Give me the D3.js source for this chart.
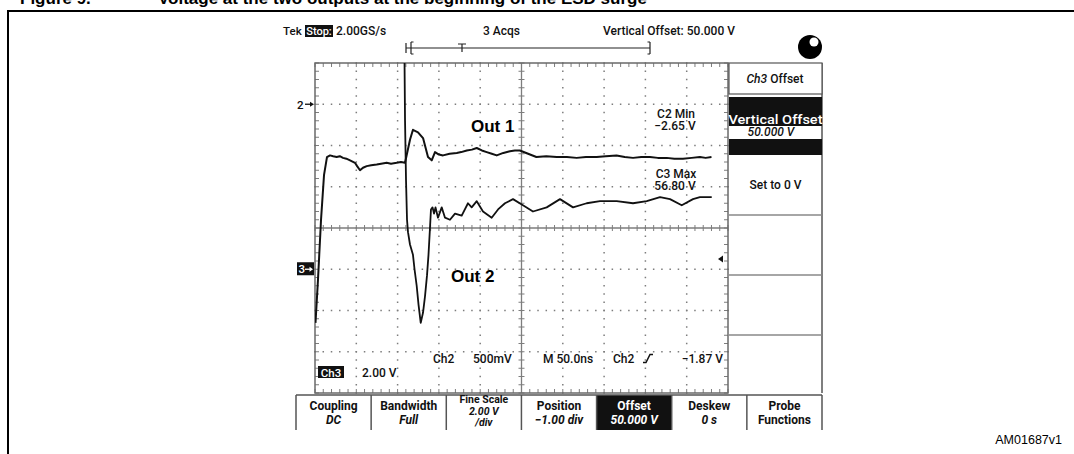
<!DOCTYPE html>
<html><head><meta charset="utf-8">
<script src="https://cdn.jsdelivr.net/npm/d3@7/dist/d3.min.js"></script>
<style>
body{margin:0;background:#fff}
svg{display:block}
text{font-family:Roboto,"Noto Sans",sans-serif}
</style>
</head><body>
<svg id="c" width="1074" height="454"></svg>
<script>
// ---------- DATA ----------
// Out 1 (Ch2, 500 mV/div, ground marker at +3 div), time in ns (50 ns/div)
const out1Time  = [0.6,3.6,7.3,10.9,14.5,18.2,22,26.3,30,33.9,38,42.4,48.4,51,54.5,58.1,62.6,68,74.7,80,86.8,92,98.9,104,109,115,118.6,124.7,130.8,136.8,141.3,145.3,150,155,163,171.6,177,183.7,190,195.8,202,207.9,214,220,228,236,242,248,258,268,280,292.6,305,316.8,328,341,352,365,375,385,395,405.6,415,425.8,435,445.5,456,466,473,480];
const out1Volts = [-2.65,-2.13,-1.40,-0.86,-0.64,-0.62,-0.63,-0.64,-0.63,-0.65,-0.66,-0.68,-0.71,-0.75,-0.80,-0.77,-0.75,-0.74,-0.73,-0.72,-0.71,-0.72,-0.71,-0.70,-0.71,-0.43,-0.31,-0.34,-0.41,-0.64,-0.68,-0.58,-0.61,-0.62,-0.60,-0.59,-0.58,-0.56,-0.55,-0.53,-0.56,-0.58,-0.60,-0.62,-0.59,-0.57,-0.56,-0.56,-0.60,-0.64,-0.63,-0.64,-0.64,-0.65,-0.64,-0.64,-0.63,-0.62,-0.64,-0.65,-0.64,-0.64,-0.65,-0.65,-0.66,-0.66,-0.65,-0.64,-0.65,-0.64];
// Out 2 (Ch3, 2.00 V/div, offset 50 V at -1 div)
const out2Time  = [108.4,109,110.2,111.4,112.6,115,118.6,120.5,123.1,125.3,128,130.8,133.2,135.6,137.4,139.2,140.4,142.3,144.1,145.9,148.9,153.4,157.4,163.4,169.5,177.6,185.2,189.7,195.8,203.4,213.9,221.6,230,239.7,251.8,263.9,280.5,296.6,312.4,328.9,345,365.3,385,401.6,417.7,429.8,444,457.6,466,480.3];
const out2Volts = [60.0,57.2,54.3,52.4,51.8,51.2,50.7,50.0,49.2,48.3,47.4,47.9,48.7,49.7,50.7,52.0,52.9,53.0,52.7,53.0,52.5,53.0,52.5,52.4,52.7,52.6,53.2,53.0,53.3,52.8,52.5,52.9,53.2,53.4,53.1,52.8,53.0,53.4,53.0,53.2,53.3,53.3,53.2,53.3,53.5,53.4,53.1,53.4,53.5,53.5];

const headerTexts = ["2.00GS/s","3 Acqs","Vertical Offset: 50.000 V"];
const measLabels = [["C2 Min","\u22122.65 V"],["C3 Max","56.80 V"]];
const sideMenu = ["Ch3 Offset","Vertical Offset","50.000 V","Set to 0 V"];
const bottomButtons = [
  ["Coupling","DC"],["Bandwidth","Full"],["Fine Scale","2.00 V","/div"],
  ["Position","\u22121.00 div"],["Offset","50.000 V"],["Deskew","0 s"],["Probe","Functions"]
];
const statusTexts = {ch3:"2.00 V", ch2:"Ch2", ch2scale:"500mV", time:"M 50.0ns", trig:"Ch2", trigLevel:"\u22121.87 V"};

// ---------- SCALES ----------
const svg = d3.select('#c');
const gx0=315, gx1=728, gy0=63, gy1=393;
const xDiv = d3.scaleLinear().domain([0,10]).range([gx0,gx1]);
const yDiv = d3.scaleLinear().domain([-4,4]).range([gy1,gy0]);
const xTime = d3.scaleLinear().domain([0,500]).range([gx0,gx1]);
const yCh2 = d3.scaleLinear().domain([-3.5,0.5]).range([gy1,gy0]);
const yCh3 = d3.scaleLinear().domain([44,60]).range([gy1,gy0]);

// ---------- FRAME / TITLE ----------
const title = svg.append('text').attr('y',4).style('font-family','"Liberation Sans",Arial,sans-serif')
  .style('font-weight','bold').style('font-size','17px').attr('fill','#000');
title.append('tspan').attr('x',20).text('Figure 9.');
title.append('tspan').attr('x',158).text('Voltage at the two outputs at the beginning of the ESD surge');
svg.append('line').attr('x1',8).attr('x2',1074).attr('y1',11).attr('y2',11).attr('stroke','#000').attr('stroke-width',2);
svg.append('line').attr('x1',8).attr('x2',8).attr('y1',10).attr('y2',454).attr('stroke','#000').attr('stroke-width',2);
svg.append('text').attr('x',1062).attr('y',444).attr('text-anchor','end')
  .style('font-family','"Liberation Sans",Arial,sans-serif').style('font-size','12.5px').text('AM01687v1');

// ---------- GRATICULE ----------
const grid = svg.append('g');
const gridCol = '#7d7d7d';
const sub = d3.range(0,10.001,0.2);
const subY = d3.range(-4,4.001,0.2);
d3.range(1,10).filter(d=>d!==5).forEach(d=>{
  grid.selectAll(null).data(subY).enter().append('rect')
    .attr('x',xDiv(d)-0.75).attr('y',v=>yDiv(v)-0.75).attr('width',1.5).attr('height',1.5).attr('fill',gridCol);
});
d3.range(-3,4).filter(d=>d!==0).forEach(d=>{
  grid.selectAll(null).data(sub).enter().append('rect')
    .attr('x',v=>xDiv(v)-0.75).attr('y',yDiv(d)-0.75).attr('width',1.5).attr('height',1.5).attr('fill',gridCol);
});
grid.append('line').attr('x1',gx0).attr('x2',gx1).attr('y1',yDiv(0)).attr('y2',yDiv(0)).attr('stroke',gridCol).attr('stroke-width',1.3);
grid.append('line').attr('x1',xDiv(5)).attr('x2',xDiv(5)).attr('y1',gy0).attr('y2',gy1).attr('stroke',gridCol).attr('stroke-width',1.3);
grid.selectAll(null).data(sub).enter().append('line')
  .attr('x1',v=>xDiv(v)).attr('x2',v=>xDiv(v)).attr('y1',yDiv(0)-3).attr('y2',yDiv(0)+3).attr('stroke',gridCol);
grid.selectAll(null).data(subY).enter().append('line')
  .attr('y1',v=>yDiv(v)).attr('y2',v=>yDiv(v)).attr('x1',xDiv(5)-3).attr('x2',xDiv(5)+3).attr('stroke',gridCol);
grid.selectAll(null).data(sub).enter().append('line')
  .attr('x1',v=>xDiv(v)).attr('x2',v=>xDiv(v)).attr('y1',gy0).attr('y2',gy0+4).attr('stroke',gridCol);
grid.selectAll(null).data(sub).enter().append('line')
  .attr('x1',v=>xDiv(v)).attr('x2',v=>xDiv(v)).attr('y1',gy1).attr('y2',gy1-4).attr('stroke',gridCol);
grid.selectAll(null).data(subY).enter().append('line')
  .attr('y1',v=>yDiv(v)).attr('y2',v=>yDiv(v)).attr('x1',gx0).attr('x2',gx0+4).attr('stroke',gridCol);
grid.selectAll(null).data(subY).enter().append('line')
  .attr('y1',v=>yDiv(v)).attr('y2',v=>yDiv(v)).attr('x1',gx1).attr('x2',gx1-4).attr('stroke',gridCol);
grid.append('rect').attr('x',gx0).attr('y',gy0).attr('width',gx1-gx0).attr('height',gy1-gy0)
  .attr('fill','none').attr('stroke','#6a6a6a').attr('stroke-width',1.5);

// ---------- TRACES ----------
svg.append('clipPath').attr('id','clip').append('rect').attr('x',gx0).attr('y',gy0).attr('width',gx1-gx0).attr('height',gy1-gy0);
const tr = svg.append('g').attr('clip-path','url(#clip)');
const l1 = d3.line().x((d,i)=>xTime(out1Time[i])).y(d=>yCh2(d));
const l2 = d3.line().x((d,i)=>xTime(out2Time[i])).y(d=>yCh3(d));
tr.append('path').attr('d',l1(out1Volts)).attr('fill','none').attr('stroke','#111').attr('stroke-width',2).attr('stroke-linejoin','round');
tr.append('path').attr('d',l2(out2Volts)).attr('fill','none').attr('stroke','#111').attr('stroke-width',1.8).attr('stroke-linejoin','round');

// ---------- LABELS ON SCREEN ----------
const bold = (sel)=>sel.style('font-family','"Liberation Sans",Arial,sans-serif').style('font-weight','bold');
bold(svg.append('text').attr('x',471).attr('y',132).style('font-size','17px').text('Out 1'));
bold(svg.append('text').attr('x',451).attr('y',282).style('font-size','17px').text('Out 2'));

const sc = (sel,size)=>sel.style('font-size',(size||12)+'px').style('font-weight',500).attr('fill','#111');
measLabels.forEach((m,i)=>{
  const by = i===0?118:178;
  sc(svg.append('text').attr('x',676).attr('y',by).attr('text-anchor','middle').text(m[0]));
  sc(svg.append('text').attr('x',675).attr('y',by+12).attr('text-anchor','middle').text(m[1]));
});

sc(svg.append('text').attr('x',297).attr('y',108.5).style('font-weight',700).text('2'),11.5);
svg.append('line').attr('x1',305).attr('x2',311).attr('y1',yDiv(3)).attr('y2',yDiv(3)).attr('stroke','#111').attr('stroke-width',1.3);
svg.append('path').attr('d',`M${314},${yDiv(3)} l-4,-2.5 v5 z`).attr('fill','#111');
svg.append('rect').attr('x',297).attr('y',yDiv(-1)-7).attr('width',17).attr('height',13).attr('fill','#111');
sc(svg.append('text').attr('x',298.5).attr('y',yDiv(-1)+4).style('font-weight',700).text('3'),11.5).attr('fill','#fff');
svg.append('line').attr('x1',305).attr('x2',310).attr('y1',yDiv(-1)).attr('y2',yDiv(-1)).attr('stroke','#fff').attr('stroke-width',1.3);
svg.append('path').attr('d',`M${313},${yDiv(-1)} l-3.5,-2.5 v5 z`).attr('fill','#fff');
svg.append('path').attr('d',`M718,${yCh2(-1.87)+0.5} l5,-3.5 v7 z`).attr('fill','#111');

svg.append('rect').attr('x',318).attr('y',366).attr('width',26).attr('height',12).attr('fill','#111');
sc(svg.append('text').attr('x',331).attr('y',376.5).attr('text-anchor','middle').text('Ch3'),11.5).attr('fill','#fff');
sc(svg.append('text').attr('x',362).attr('y',377).text(statusTexts.ch3));
sc(svg.append('text').attr('x',433).attr('y',363).text(statusTexts.ch2));
sc(svg.append('text').attr('x',473).attr('y',363).text(statusTexts.ch2scale));
sc(svg.append('text').attr('x',543).attr('y',363).text(statusTexts.time));
sc(svg.append('text').attr('x',613).attr('y',363).text(statusTexts.trig));
svg.append('path').attr('d','M643,362.5 h3 l4,-8 h3').attr('fill','none').attr('stroke','#111').attr('stroke-width',1.5);
sc(svg.append('text').attr('x',723).attr('y',363).attr('text-anchor','end').text(statusTexts.trigLevel));

// ---------- HEADER ----------
sc(svg.append('text').attr('x',283).attr('y',35).style('font-weight',700).text('Tek'),11.5);
svg.append('rect').attr('x',305).attr('y',25).attr('width',28).attr('height',12).attr('fill','#111');
sc(svg.append('text').attr('x',319).attr('y',35).attr('text-anchor','middle').text('Stop:'),11).attr('fill','#fff');
sc(svg.append('text').attr('x',336).attr('y',35).text(headerTexts[0]));
sc(svg.append('text').attr('x',483).attr('y',35).text(headerTexts[1]));
sc(svg.append('text').attr('x',603).attr('y',35).text(headerTexts[2]));
const br = svg.append('g').attr('stroke','#222').attr('stroke-width',1.2).attr('fill','none');
br.append('path').attr('d','M406,43 v10 M406,48 H650 M411,42 v12 M411,42 h2.5 M411,54 h2.5 M650,42 v12 M650,42 h-2.5 M650,54 h-2.5 M458,44 h8 M462,44 v8');
svg.append('circle').attr('cx',810).attr('cy',47).attr('r',12).attr('fill','#000');
svg.append('circle').attr('cx',814).attr('cy',42).attr('r',4.5).attr('fill','#fff');

// ---------- SIDE MENU ----------
const mx0=728, mx1=822;
svg.append('line').attr('x1',mx1).attr('x2',mx1).attr('y1',gy0).attr('y2',gy1).attr('stroke','#555').attr('stroke-width',1.5);
svg.append('rect').attr('x',mx0+1).attr('y',gy0).attr('width',mx1-mx0-1).attr('height',31).attr('fill','#fff').attr('stroke','#555').attr('stroke-width',1.2);
const t0 = sc(svg.append('text').attr('x',775).attr('y',83).attr('text-anchor','middle').style('font-weight',700),12);
t0.append('tspan').style('font-style','italic').text('Ch3');
t0.append('tspan').text(' Offset');
svg.append('rect').attr('x',mx0+1).attr('y',97).attr('width',mx1-mx0-1).attr('height',29).attr('fill','#111');
sc(svg.append('text').attr('x',775.5).attr('y',124).attr('text-anchor','middle').attr('textLength',94).attr('lengthAdjust','spacingAndGlyphs').text(sideMenu[1]),13).attr('fill','#fff');
sc(svg.append('text').attr('x',771).attr('y',136).attr('text-anchor','middle').style('font-style','italic').style('font-weight',700).text(sideMenu[2]),12);
svg.append('rect').attr('x',mx0+1).attr('y',139).attr('width',mx1-mx0-1).attr('height',16).attr('fill','#111');
sc(svg.append('text').attr('x',775.5).attr('y',189).attr('text-anchor','middle').style('font-weight',700).text(sideMenu[3]),12);
[215,275,335].forEach(y=>svg.append('line').attr('x1',mx0+1).attr('x2',mx1).attr('y1',y).attr('y2',y).attr('stroke','#888').attr('stroke-width',1.6));

// ---------- BOTTOM MENU ----------
const bx = d3.scaleLinear().domain([0,7]).range([296,822]);
const bw = bx(1)-bx(0);
svg.append('rect').attr('x',bx(4)).attr('y',395).attr('width',bw).attr('height',35).attr('fill','#111');
svg.append('line').attr('x1',bx(0)).attr('x2',bx(7)).attr('y1',395).attr('y2',395).attr('stroke','#555').attr('stroke-width',1.5);
d3.range(0,8).forEach(i=>svg.append('line').attr('x1',bx(i)).attr('x2',bx(i)).attr('y1',395).attr('y2',430).attr('stroke','#555').attr('stroke-width',1.5));
bottomButtons.forEach((b,i)=>{
  const cx = bx(i)+bw/2;
  const three = b.length===3;
  const ys = three ? [403,414.5,426] : [410,423.5];
  b.forEach((s,j)=>{
    const italic = j>0 && i!==6;
    const t = sc(svg.append('text').attr('x',cx).attr('y',ys[j]).attr('text-anchor','middle').text(s),three?10.5:12)
      .style('font-style', italic?'italic':'normal').style('font-weight',700);
    if(i===4) t.attr('fill','#fff');
  });
});
</script>
</body></html>
